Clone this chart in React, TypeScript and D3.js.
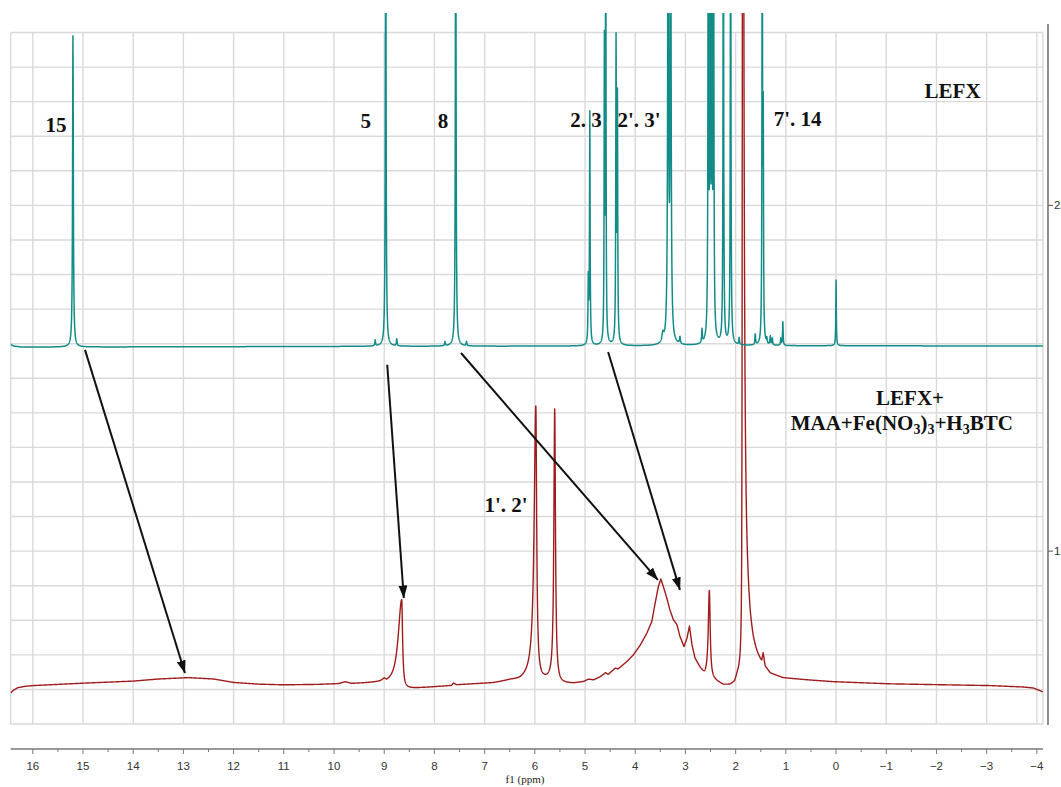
import React, { useMemo } from "react";
import * as d3 from "d3";

const WIDTH = 1061;
const HEIGHT = 787;

// ---------- axes ----------
const PPM_LEFT = 16.44;
const PPM_RIGHT = -4.12;
const Y_MIN = 0.5;
const Y_MAX = 2.5;
const ppmTicks = [16, 15, 14, 13, 12, 11, 10, 9, 8, 7, 6, 5, 4, 3, 2, 1, 0, -1, -2, -3, -4];
const ppmMinorTicks = [15.5, 14.5, 13.5, 12.5, 11.5, 10.5, 9.5, 8.5, 7.5, 6.5, 5.5, 4.5, 3.5, 2.5, 1.5, 0.5, -0.5, -1.5, -2.5, -3.5];
const intensityTicks = [2, 1];
const intensityGrid = [0.5, 0.6, 0.7, 0.8, 0.9, 1.0, 1.1, 1.2, 1.3, 1.4, 1.5, 1.6, 1.7, 1.8, 1.9, 2.0, 2.1, 2.2, 2.3, 2.4, 2.5];

// ---------- LEFX spectrum (teal) ----------
const lefxBaselinePpm = [16.44, 16.38, 16.2, 10, 5, 0, -4.12];
const lefxBaselineVal = [1.598, 1.593, 1.590, 1.592, 1.593, 1.594, 1.593];
const lefxPeakPpm = [15.2, 9.18, 8.97, 8.75, 7.79, 7.576, 7.36, 4.935, 4.905, 4.615, 4.588, 4.382, 4.355, 3.45, 3.345, 3.295, 3.11, 2.67, 2.545, 2.51, 2.475, 2.44, 2.245, 2.1, 1.93, 1.61, 1.47, 1.45, 1.38, 1.31, 1.27, 1.1, 1.06, 0.0];
const lefxPeakHeight = [0.9, 0.017, 1.5, 0.02, 0.012, 1.5, 0.012, 0.18, 0.67, 0.84, 1.5, 0.86, 0.69, 0.025, 1.5, 1.5, 0.02, 0.039, 1.5, 1.5, 1.5, 1.5, 1.5, 1.5, 0.02, 0.03, 1.5, 0.61, 0.015, 0.025, 0.02, 0.02, 0.068, 0.19];
const lefxPeakWidth = [0.009, 0.008, 0.008, 0.008, 0.008, 0.008, 0.008, 0.007, 0.007, 0.006, 0.006, 0.007, 0.007, 0.02, 0.01, 0.01, 0.01, 0.008, 0.007, 0.007, 0.007, 0.007, 0.007, 0.007, 0.008, 0.008, 0.006, 0.006, 0.008, 0.008, 0.008, 0.008, 0.007, 0.006];

// ---------- LEFX + MAA + Fe(NO3)3 + H3BTC spectrum (red) ----------
const compBaselinePpm = [16.44, 16.38, 16.3, 16.15, 16.0, 15.0, 14.0, 13.5, 12.9, 12.4, 12.0, 11.5, 11.0, 10.3, 9.9, 9.78, 9.65, 9.25, 9.08, 9.0, 8.95, 8.82, 8.7, 8.6, 8.49, 8.15, 7.76, 7.66, 7.62, 7.56, 7.16, 6.83, 6.49, 6.29, 6.16, 6.07, 5.86, 5.7, 5.5, 5.23, 5.03, 4.93, 4.83, 4.7, 4.59, 4.54, 4.4, 4.34, 4.17, 4.04, 3.9, 3.77, 3.67, 3.61, 3.54, 3.49, 3.44, 3.37, 3.31, 3.24, 3.17, 3.11, 3.03, 2.97, 2.92, 2.87, 2.81, 2.71, 2.62, 2.41, 2.245, 2.11, 2.02, 1.97, 1.88, 1.86, 1.82, 1.78, 1.71, 1.65, 1.58, 1.51, 1.48, 1.452, 1.42, 1.41, 1.31, 1.06, 0.58, 0.06, -1.08, -3.07, -3.73, -3.93, -4.12];
const compBaselineVal = [0.59, 0.598, 0.605, 0.609, 0.611, 0.618, 0.624, 0.63, 0.634, 0.63, 0.62, 0.615, 0.613, 0.614, 0.616, 0.621, 0.616, 0.617, 0.617, 0.621, 0.613, 0.612, 0.615, 0.603, 0.603, 0.606, 0.61, 0.611, 0.618, 0.613, 0.616, 0.618, 0.625, 0.624, 0.629, 0.632, 0.627, 0.625, 0.616, 0.617, 0.622, 0.629, 0.627, 0.636, 0.648, 0.643, 0.661, 0.659, 0.68, 0.699, 0.728, 0.762, 0.796, 0.844, 0.897, 0.919, 0.897, 0.863, 0.83, 0.801, 0.787, 0.753, 0.723, 0.747, 0.782, 0.728, 0.689, 0.661, 0.638, 0.625, 0.613, 0.613, 0.62, 0.64, 0.66, 0.95, 0.9, 0.84, 0.76, 0.72, 0.694, 0.678, 0.674, 0.697, 0.667, 0.66, 0.643, 0.632, 0.627, 0.622, 0.616, 0.611, 0.607, 0.604, 0.593];
const compPeakPpm = [8.651, 5.98, 5.604, 2.524, 1.86];
const compPeakHeight = [0.25, 0.788, 0.788, 0.254, 4.0];
const compPeakWidthLeft = [0.08, 0.04, 0.02, 0.025, 0.006];
const compPeakWidthRight = [0.02, 0.02, 0.018, 0.02, 0.02];

// ---------- annotations (data coordinates) ----------
const peakLabelText = ["15", "5", "8", "2. 3", "2'. 3'", "7'. 14", "1'. 2'"];
const peakLabelPpm = [15.538, 9.369, 7.829, 4.98, 3.924, 0.767, 6.574];
const peakLabelVal = [2.2123, 2.2239, 2.2239, 2.2268, 2.2268, 2.2297, 1.1133];
const arrowFromPpm = [14.96, 8.94, 7.47, 4.54];
const arrowFromVal = [1.582, 1.539, 1.573, 1.576];
const arrowToPpm = [12.97, 8.61, 3.55, 3.11];
const arrowToVal = [0.6476, 0.8645, 0.9166, 0.888];

const TEAL = "#128c88";
const RED = "#a01c1c";
const GRID = "#d9d9d9";
const LABEL_FONT = "'Times New Roman', 'Liberation Serif', serif";

type Peak = { c: number; h: number; wl: number; wr: number };

function buildSpectrum(basePpm: number[], baseVal: number[], peaks: Peak[]): [number, number][] {
  const pairs = basePpm.map((p, i) => [p, baseVal[i]] as [number, number]).sort((a, b) => a[0] - b[0]);
  const baseline = d3
    .scaleLinear()
    .domain(pairs.map((p) => p[0]))
    .range(pairs.map((p) => p[1]))
    .clamp(true);
  const grid = d3.range(PPM_RIGHT, PPM_LEFT, 0.0025).concat(peaks.map((p) => p.c), [PPM_LEFT]);
  grid.sort((a, b) => b - a);
  return grid.map((ppm) => {
    let v = baseline(ppm);
    for (const p of peaks) {
      const d = ppm - p.c;
      const w = d > 0 ? p.wl : p.wr;
      v += p.h / (1 + (d / w) * (d / w));
    }
    return [ppm, v];
  });
}

export default function App() {
  const PLOT_LEFT = 10.7;
  const PLOT_RIGHT = 1042.9;
  const PLOT_TOP = 32.5;
  const PLOT_BOTTOM = 724;
  const CLIP_TOP = 13;
  const AXIS_Y = 749;
  const RIGHT_AXIS_X = 1048;

  const x = d3.scaleLinear().domain([PPM_LEFT, PPM_RIGHT]).range([PLOT_LEFT, PLOT_RIGHT]);
  const y = d3.scaleLinear().domain([Y_MIN, Y_MAX]).range([PLOT_BOTTOM, PLOT_TOP]);

  const { tealPath, redPath } = useMemo(() => {
    const lefxPeaks = lefxPeakPpm.map((c, i) => ({ c, h: lefxPeakHeight[i], wl: lefxPeakWidth[i], wr: lefxPeakWidth[i] }));
    const compPeaks = compPeakPpm.map((c, i) => ({ c, h: compPeakHeight[i], wl: compPeakWidthLeft[i], wr: compPeakWidthRight[i] }));
    const line = d3
      .line<[number, number]>()
      .x((d) => x(d[0]))
      .y((d) => y(d[1]));
    return {
      tealPath: line(buildSpectrum(lefxBaselinePpm, lefxBaselineVal, lefxPeaks)) || "",
      redPath: line(buildSpectrum(compBaselinePpm, compBaselineVal, compPeaks)) || "",
    };
  }, []);

  const fmt = (t: number) => (t < 0 ? "\u2212" + Math.abs(t) : String(t));

  return (
    <svg
      width={WIDTH}
      height={HEIGHT}
      style={{ position: "absolute", left: 0, top: 0, background: "#fff" }}
    >
      <defs>
        <clipPath id="plotClip">
          <rect x={PLOT_LEFT} y={CLIP_TOP} width={PLOT_RIGHT - PLOT_LEFT} height={PLOT_BOTTOM - CLIP_TOP} />
        </clipPath>
        <marker
          id="arrowHead"
          viewBox="0 0 13 9"
          refX={12.5}
          refY={4.5}
          markerWidth={13}
          markerHeight={9}
          markerUnits="userSpaceOnUse"
          orient="auto"
        >
          <path d="M0,0 L13,4.5 L0,9 Z" fill="#111" />
        </marker>
      </defs>
      <rect x={0} y={0} width={WIDTH} height={HEIGHT} fill="#fff" />

      {/* grid */}
      <g stroke={GRID} strokeWidth={1.4}>
        {intensityGrid.map((v) => (
          <line key={"h" + v} x1={PLOT_LEFT} x2={PLOT_RIGHT} y1={y(v)} y2={y(v)} />
        ))}
        {ppmTicks.concat([PPM_LEFT, PPM_RIGHT]).map((t) => (
          <line key={"v" + t} x1={x(t)} x2={x(t)} y1={PLOT_TOP} y2={PLOT_BOTTOM} />
        ))}
      </g>

      {/* spectra */}
      <g clipPath="url(#plotClip)" fill="none">
        <path d={redPath} stroke={RED} strokeWidth={1.4} strokeLinejoin="round" />
        <path d={tealPath} stroke={TEAL} strokeWidth={1.5} strokeLinejoin="round" />
      </g>

      {/* arrows */}
      <g stroke="#111" strokeWidth={2}>
        {arrowFromPpm.map((p, i) => (
          <line
            key={"a" + i}
            x1={x(p)}
            y1={y(arrowFromVal[i])}
            x2={x(arrowToPpm[i])}
            y2={y(arrowToVal[i])}
            markerEnd="url(#arrowHead)"
          />
        ))}
      </g>

      {/* bottom axis */}
      <g>
        <line x1={PLOT_LEFT} x2={PLOT_RIGHT} y1={AXIS_Y} y2={AXIS_Y} stroke="#777" strokeWidth={1.5} />
        {ppmTicks.map((t) => (
          <g key={"t" + t}>
            <line x1={x(t)} x2={x(t)} y1={AXIS_Y} y2={AXIS_Y + 5} stroke="#777" strokeWidth={1} />
            <text
              x={x(t)}
              y={769.5}
              textAnchor="middle"
              fontFamily="'Liberation Sans', Arial, sans-serif"
              fontSize={11.5}
              fill="#333"
            >
              {fmt(t)}
            </text>
          </g>
        ))}
        {ppmMinorTicks.map((t) => (
          <line key={"m" + t} x1={x(t)} x2={x(t)} y1={AXIS_Y} y2={AXIS_Y + 3} stroke="#777" strokeWidth={1} />
        ))}
        <text x={525} y={783} textAnchor="middle" fontFamily="'Liberation Serif', serif" fontSize={11} fill="#222">
          f1 (ppm)
        </text>
      </g>

      {/* right axis */}
      <g>
        <line x1={RIGHT_AXIS_X} x2={RIGHT_AXIS_X} y1={24} y2={PLOT_BOTTOM + 1} stroke="#555" strokeWidth={1.3} />
        {intensityTicks.map((t) => (
          <g key={"r" + t}>
            <line x1={RIGHT_AXIS_X} x2={RIGHT_AXIS_X + 5} y1={y(t)} y2={y(t)} stroke="#555" strokeWidth={1} />
            <text
              x={RIGHT_AXIS_X + 6}
              y={y(t) + 4}
              fontFamily="'Liberation Sans', Arial, sans-serif"
              fontSize={11.5}
              fill="#333"
            >
              {t}
            </text>
          </g>
        ))}
      </g>

      {/* labels */}
      <g fontFamily={LABEL_FONT} fontWeight="bold" fontSize={21} fill="#111" textAnchor="middle">
        {peakLabelText.map((t, i) => (
          <text key={"l" + i} x={x(peakLabelPpm[i])} y={y(peakLabelVal[i])}>
            {t}
          </text>
        ))}
        <text x={x(-2.321)} y={y(2.3107)}>LEFX</text>
        <text x={x(-1.474)} y={y(1.4227)}>LEFX+</text>
        <text x={x(-1.309)} y={y(1.3504)}>
          <tspan>MAA+Fe(NO</tspan>
          <tspan fontSize={14} dy={4}>3</tspan>
          <tspan dy={-4}>)</tspan>
          <tspan fontSize={14} dy={4}>3</tspan>
          <tspan dy={-4}>+H</tspan>
          <tspan fontSize={14} dy={4}>3</tspan>
          <tspan dy={-4}>BTC</tspan>
        </text>
      </g>
    </svg>
  );
}
